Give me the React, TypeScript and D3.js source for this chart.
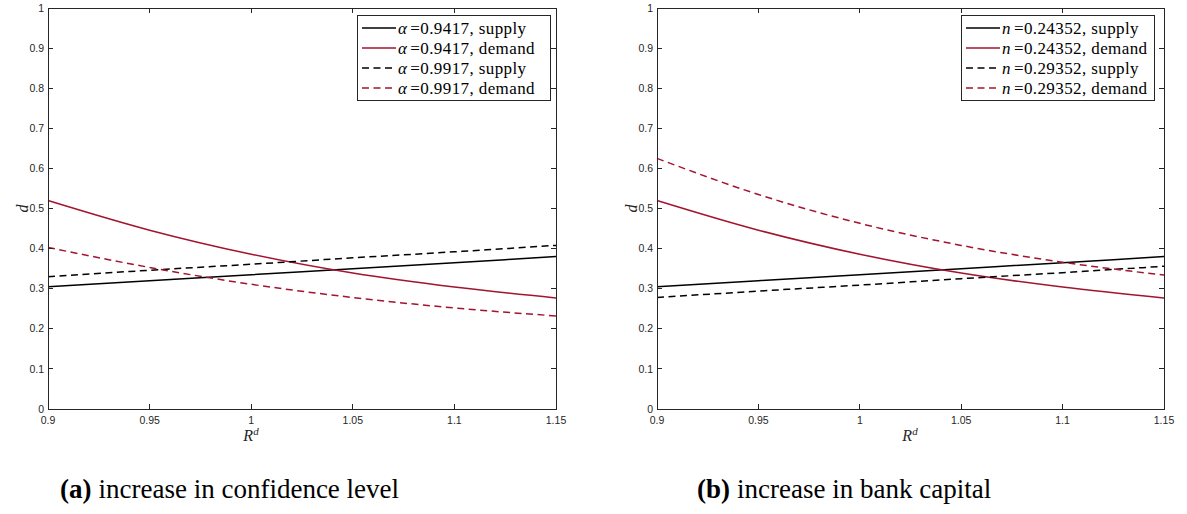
import React from "react";
import * as d3 from "d3";

const xs = [0.9, 0.95, 1.0, 1.05, 1.1, 1.15];
const xTicks = [0.9, 0.95, 1, 1.05, 1.1, 1.15];
const xTickLabels = ["0.9", "0.95", "1", "1.05", "1.1", "1.15"];
const yTicks = [0, 0.1, 0.2, 0.3, 0.4, 0.5, 0.6, 0.7, 0.8, 0.9, 1];
const yTickLabels = ["0", "0.1", "0.2", "0.3", "0.4", "0.5", "0.6", "0.7", "0.8", "0.9", "1"];

// panel (a)
const aSupply1 = [0.305, 0.320, 0.335, 0.350, 0.365, 0.380];
const aDemand1 = [0.520, 0.446, 0.386, 0.339, 0.304, 0.277];
const aSupply2 = [0.330, 0.346, 0.361, 0.377, 0.392, 0.408];
const aDemand2 = [0.403, 0.353, 0.311, 0.278, 0.252, 0.232];
const aLabels = ["=0.9417, supply", "=0.9417, demand", "=0.9917, supply", "=0.9917, demand"];
const aSymbol = "α";

// panel (b)
const bSupply1 = [0.305, 0.320, 0.335, 0.350, 0.365, 0.380];
const bDemand1 = [0.520, 0.446, 0.386, 0.339, 0.304, 0.277];
const bSupply2 = [0.278, 0.294, 0.309, 0.325, 0.340, 0.356];
const bDemand2 = [0.625, 0.535, 0.463, 0.408, 0.366, 0.334];
const bLabels = ["=0.24352, supply", "=0.24352, demand", "=0.29352, supply", "=0.29352, demand"];
const bSymbol = "n";

const RED = "#A2142F";
const BLACK = "#000000";
const AX = "#262626";
const SERIF = "'Liberation Serif', 'Times New Roman', serif";
const SANS = "'Liberation Sans', Arial, sans-serif";

type Panel = {
  left: number;
  right: number;
  series: number[][];
  labels: string[];
  symbol: string;
  legendX: number;
  xLabelX: number;
  caption: [string, string];
  captionX: number;
};

const top = 8;
const bottom = 409;
const DASH = "7,4.5";
const styles = [
  { color: BLACK, dash: undefined },
  { color: RED, dash: undefined },
  { color: BLACK, dash: DASH },
  { color: RED, dash: DASH },
];

function PanelView({ p }: { p: Panel }) {
  const x = d3.scaleLinear().domain([0.9, 1.15]).range([p.left, p.right]);
  const y = d3.scaleLinear().domain([0, 1]).range([bottom, top]);
  const line = d3
    .line<number>()
    .x((_, i) => x(xs[i]))
    .y((v) => y(v))
    .curve(d3.curveMonotoneX);
  const tk = 5;
  const lx = p.legendX;
  const lw = 193;
  return (
    <g>
      {p.series.map((s, i) => (
        <path
          key={i}
          d={line(s) || ""}
          fill="none"
          stroke={styles[i].color}
          strokeWidth={1.5}
          strokeDasharray={styles[i].dash}
        />
      ))}
      <rect x={p.left} y={top} width={p.right - p.left} height={bottom - top} fill="none" stroke={AX} strokeWidth={1} shapeRendering="crispEdges" />
      {yTicks.map((t, i) => (
        <g key={"y" + i}>
          <line x1={p.left} x2={p.left + tk} y1={y(t)} y2={y(t)} stroke={AX} shapeRendering="crispEdges" />
          <line x1={p.right} x2={p.right - tk} y1={y(t)} y2={y(t)} stroke={AX} shapeRendering="crispEdges" />
          <text x={p.left - 4} y={y(t)} dy="0.35em" textAnchor="end" style={{ fontFamily: SANS }} fontSize={10.5} fill={AX}>
            {yTickLabels[i]}
          </text>
        </g>
      ))}
      {xTicks.map((t, i) => (
        <g key={"x" + i}>
          <line x1={x(t)} x2={x(t)} y1={bottom} y2={bottom - tk} stroke={AX} shapeRendering="crispEdges" />
          <line x1={x(t)} x2={x(t)} y1={top} y2={top + tk} stroke={AX} shapeRendering="crispEdges" />
          <text x={x(t)} y={bottom + 15} textAnchor="middle" style={{ fontFamily: SANS }} fontSize={10.5} fill={AX}>
            {xTickLabels[i]}
          </text>
        </g>
      ))}
      <text x={p.xLabelX} y={441} textAnchor="middle" style={{ fontFamily: SERIF }} fontSize={16} fill={AX} fontStyle="italic">
        R
        <tspan fontSize={11} dy={-6}>d</tspan>
      </text>
      <text
        transform={`translate(${p.left - 20},${(top + bottom) / 2}) rotate(-90)`}
        textAnchor="middle"
        style={{ fontFamily: SERIF }}
        fontSize={16}
        fontStyle="italic"
        fill={AX}
      >
        d
      </text>
      <rect x={lx} y={15} width={lw} height={85} fill="#fff" stroke={AX} strokeWidth={1} shapeRendering="crispEdges" />
      {p.labels.map((lab, i) => {
        const ry = 28 + i * 20;
        return (
          <g key={"l" + i}>
            <line x1={lx + 5} x2={lx + 39} y1={ry} y2={ry} stroke={styles[i].color} strokeWidth={1.5} strokeDasharray={styles[i].dash} />
            <text x={lx + 41} y={ry} dy="0.33em" style={{ fontFamily: SERIF, letterSpacing: "0.4px" }} fontSize={17} fill="#000">
              <tspan fontStyle="italic">{p.symbol}</tspan>
              <tspan dx={3}>{lab}</tspan>
            </text>
          </g>
        );
      })}
      <text x={p.captionX} y={498} style={{ fontFamily: SERIF }} fontSize={27} fill="#000">
        <tspan fontWeight="bold">{p.caption[0]}</tspan>
        <tspan dx={7}>{p.caption[1]}</tspan>
      </text>
    </g>
  );
}

export default function App() {
  const panels: Panel[] = [
    {
      left: 48,
      right: 556,
      series: [aSupply1, aDemand1, aSupply2, aDemand2],
      labels: aLabels,
      symbol: aSymbol,
      legendX: 357,
      xLabelX: 251,
      caption: ["(a)", "increase in confidence level"],
      captionX: 60,
    },
    {
      left: 657,
      right: 1164,
      series: [bSupply1, bDemand1, bSupply2, bDemand2],
      labels: bLabels,
      symbol: bSymbol,
      legendX: 961,
      xLabelX: 910,
      caption: ["(b)", "increase in bank capital"],
      captionX: 697,
    },
  ];
  return (
    <svg width={1187} height={514} style={{ position: "absolute", left: 0, top: 0, background: "#fff" }}>
      <rect width={1187} height={514} fill="#fff" />
      {panels.map((p, i) => (
        <PanelView key={i} p={p} />
      ))}
    </svg>
  );
}
